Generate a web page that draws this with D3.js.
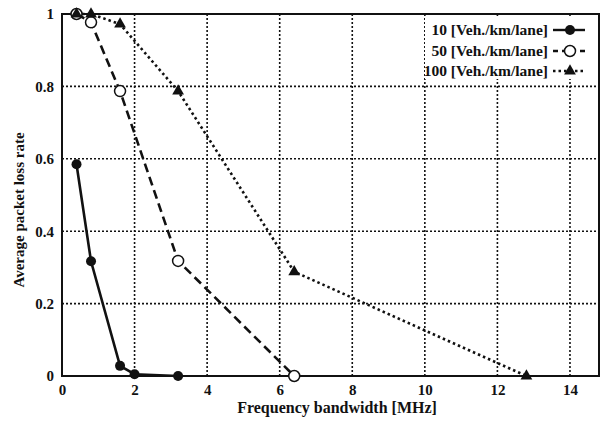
<!DOCTYPE html>
<html><head><meta charset="utf-8">
<script src="https://cdn.jsdelivr.net/npm/d3@7"></script>
<style>body{margin:0;background:#fff}svg{display:block}text{font-family:"Liberation Serif","DejaVu Serif",serif;font-weight:bold;fill:#111}</style>
</head><body><svg id="c" width="611" height="423"></svg>
<script>
const xTicks = [0,2,4,6,8,10,12,14];
const yTicks = [0,0.2,0.4,0.6,0.8,1];
const yTickLabels = ["0","0.2","0.4","0.6","0.8","1"];
const seriesNames = ["10 [Veh./km/lane]","50 [Veh./km/lane]","100 [Veh./km/lane]"];
const s10 = [[0.4,0.585],[0.8,0.317],[1.6,0.028],[2.0,0.005],[3.2,0.0]];
const s50 = [[0.4,1.0],[0.8,0.977],[1.6,0.787],[3.2,0.318],[6.4,0.0]];
const s100 = [[0.4,1.0],[0.8,1.0],[1.6,0.972],[3.2,0.787],[6.4,0.288],[12.8,0.0]];

const svg = d3.select("#c");
const L=62,R=599,T=14,B=376;
const x = d3.scaleLinear().domain([0,14.8]).range([L,R]);
const y = d3.scaleLinear().domain([0,1]).range([B,T]);
const ink="#111";

// grid
const g = svg.append("g");
g.selectAll(".gx").data(xTicks.filter(d=>d>0)).join("line")
 .attr("x1",d=>x(d)).attr("x2",d=>x(d)).attr("y1",T).attr("y2",B)
 .attr("stroke",ink).attr("stroke-width",1.6).attr("stroke-dasharray","2,2");
g.selectAll(".gy").data(yTicks.filter(d=>d>0&&d<1)).join("line")
 .attr("y1",d=>y(d)).attr("y2",d=>y(d)).attr("x1",L).attr("x2",R)
 .attr("stroke",ink).attr("stroke-width",1.6).attr("stroke-dasharray","2,2");

// legend background
svg.append("rect").attr("x",425).attr("y",17).attr("width",R-425-1).attr("height",62).attr("fill","#fff");

// frame
svg.append("rect").attr("x",L).attr("y",T).attr("width",R-L).attr("height",B-T)
 .attr("fill","none").attr("stroke",ink).attr("stroke-width",2);

// axes
const xa = svg.append("g").attr("transform",`translate(0,${B})`)
 .call(d3.axisBottom(x).tickValues(xTicks).tickSize(0).tickPadding(8).tickFormat(d3.format("d")));
xa.select(".domain").remove();
xa.selectAll("text").style("font-size","15px").attr("fill",ink);
const ya = svg.append("g").attr("transform",`translate(${L},0)`)
 .call(d3.axisLeft(y).tickValues(yTicks).tickSize(0).tickPadding(8).tickFormat((d,i)=>yTickLabels[i]));
ya.select(".domain").remove();
ya.selectAll("text").style("font-size","15px").attr("fill",ink);

svg.append("text").attr("x",337).attr("y",413).attr("text-anchor","middle")
 .style("font-size","16px").text("Frequency bandwidth [MHz]");
svg.append("text").attr("transform",`translate(24,210) rotate(-90)`).attr("text-anchor","middle")
 .style("font-size","15px").text("Average packet loss rate");

const line = d3.line().x(d=>x(d[0])).y(d=>y(d[1]));
const styles = [
 {dash:null, w:2.6},
 {dash:"9,5", w:2.6},
 {dash:"2.5,3", w:2.6}
];
const all=[s10,s50,s100];
all.forEach((s,i)=>{
 svg.append("path").datum(s).attr("d",line).attr("fill","none")
  .attr("stroke",ink).attr("stroke-width",styles[i].w).attr("stroke-dasharray",styles[i].dash);
});
function marker(sel,i){
 if(i===0) sel.append("circle").attr("r",5).attr("fill",ink);
 else if(i===1) sel.append("circle").attr("r",5.5).attr("fill","#fff").attr("stroke",ink).attr("stroke-width",1.5);
 else sel.append("path").attr("d",d3.symbol(d3.symbolTriangle,60)()).attr("fill",ink);
}
[0,1,2].forEach(i=>{
 all[i].forEach(p=>{
  const m=svg.append("g").attr("transform",`translate(${x(p[0])},${y(p[1])})`);
  marker(m,i);
 });
});

// legend
const ly=[30,51,71];
seriesNames.forEach((n,i)=>{
 svg.append("text").attr("x",548).attr("y",ly[i]).attr("dy","0.35em").attr("text-anchor","end")
  .style("font-size","15.5px").text(n);
 svg.append("line").attr("x1",553).attr("x2",585).attr("y1",ly[i]).attr("y2",ly[i])
  .attr("stroke",ink).attr("stroke-width",2.4).attr("stroke-dasharray",i===0?null:(i===1?"5,4":"2.5,3"));
 const m=svg.append("g").attr("transform",`translate(570,${ly[i]})`);
 marker(m,i);
});
</script></body></html>
